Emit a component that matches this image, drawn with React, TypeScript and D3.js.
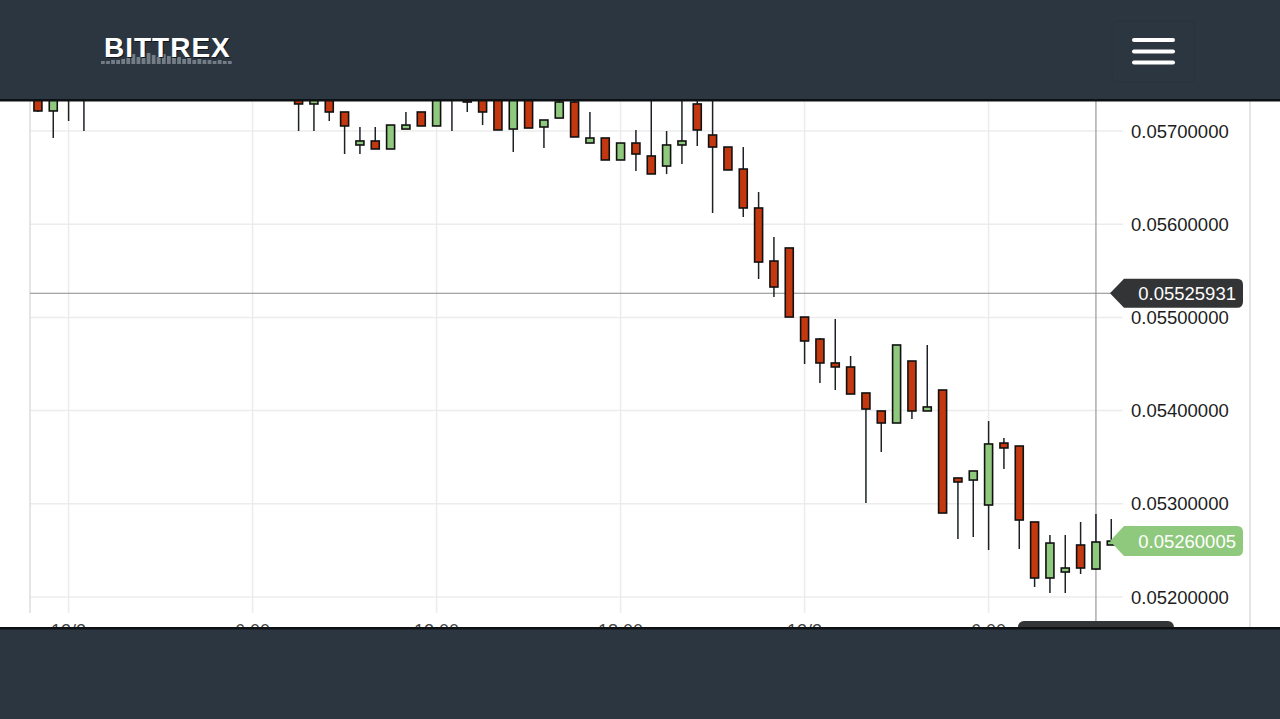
import React, { useRef, useEffect } from "react";
import * as d3 from "d3";

const width = 1280;
const height = 719;

// half-hour candles, hours after 12/2 00:00 (the ones hidden under the header are left out)
const hours = [-1, -0.5, 0, 0.5,
  7.5, 8, 8.5, 9, 9.5, 10, 10.5, 11, 11.5, 12, 12.5, 13, 13.5, 14, 14.5, 15, 15.5, 16, 16.5, 17, 17.5,
  18, 18.5, 19, 19.5, 20, 20.5, 21, 21.5, 22, 22.5, 23, 23.5, 24, 24.5, 25, 25.5, 26, 26.5, 27, 27.5,
  28, 28.5, 29, 29.5, 30, 30.5, 31, 31.5, 32, 32.5, 33, 33.5, 34];

const opens = [0.057376, 0.057215, 0.05745, 0.05738,
  0.057354, 0.05729, 0.057354, 0.057204, 0.05685, 0.056893, 0.056807, 0.057021, 0.057204, 0.057054, 0.0575,
  0.057376, 0.057365, 0.057365, 0.057021, 0.057365, 0.057043, 0.057139, 0.057311, 0.056871, 0.056925,
  0.056689, 0.056871, 0.056732, 0.056624, 0.05685, 0.05729, 0.056957, 0.056828, 0.056592, 0.056174,
  0.055605, 0.055745, 0.055004, 0.054768, 0.054511, 0.054468, 0.054189, 0.053996, 0.053867, 0.054532,
  0.053996, 0.054221, 0.053277, 0.053255, 0.052987, 0.053652, 0.05362, 0.052805, 0.052204, 0.052268,
  0.052558, 0.0523, 0.052558];

const highs = [0.057397, 0.057386, 0.0575, 0.0576,
  0.057376, 0.057376, 0.05738, 0.057204, 0.057043, 0.057043, 0.057064, 0.057204, 0.057204, 0.057397, 0.0576,
  0.0574, 0.05739, 0.05739, 0.05739, 0.05739, 0.057118, 0.05738, 0.05733, 0.057204, 0.056925,
  0.056871, 0.057011, 0.0574, 0.057, 0.0574, 0.05738, 0.0574, 0.056828, 0.056828, 0.056345,
  0.055863, 0.055745, 0.055004, 0.054779, 0.054983, 0.054586, 0.054189, 0.053996, 0.054704, 0.054532,
  0.054704, 0.054221, 0.053277, 0.053352, 0.053888, 0.053706, 0.05362, 0.052805, 0.052665, 0.052665,
  0.052805, 0.052891, 0.052837];

const lows = [0.057204, 0.056925, 0.057107, 0.057,
  0.057, 0.057, 0.057107, 0.056753, 0.056753, 0.056807, 0.056807, 0.057021, 0.057054, 0.057054, 0.057,
  0.057204, 0.057064, 0.057011, 0.056775, 0.057032, 0.056818, 0.057139, 0.056936, 0.056871, 0.056689,
  0.056689, 0.056571, 0.056539, 0.056539, 0.056646, 0.056839, 0.05612, 0.056582, 0.056077, 0.055412,
  0.055219, 0.055004, 0.0545, 0.054296, 0.054221, 0.054178, 0.053009, 0.053556, 0.053867, 0.05391,
  0.053996, 0.052901, 0.052622, 0.052644, 0.052504, 0.053373, 0.052515, 0.052107, 0.052043, 0.052043,
  0.052247, 0.05229, 0.052558];

const closes = [0.057215, 0.057365, 0.05738, 0.05745,
  0.05729, 0.057354, 0.057204, 0.057054, 0.056893, 0.056807, 0.057064, 0.057064, 0.057054, 0.057365, 0.0574,
  0.057311, 0.057204, 0.057011, 0.057365, 0.057032, 0.057118, 0.057311, 0.056936, 0.056925, 0.056689,
  0.056871, 0.056753, 0.056539, 0.05685, 0.056893, 0.057011, 0.056828, 0.056582, 0.056174, 0.055594,
  0.055326, 0.055004, 0.054747, 0.054511, 0.054468, 0.054178, 0.054017, 0.053867, 0.054704, 0.053996,
  0.054039, 0.052901, 0.053234, 0.053352, 0.053642, 0.053599, 0.052826, 0.052204, 0.052579, 0.052311,
  0.052311, 0.05259, 0.05260005];

const priceTicks = [0.052, 0.053, 0.054, 0.055, 0.056, 0.057];
const lastPrice = 0.05260005;
const crossPrice = 0.05525931;
const crossHour = 33.5;

// little bars of the logo under the brand name
const logoBars = [3, 3, 4, 4, 5, 6, 10, 7, 10, 11, 9, 7, 10, 8, 6, 7, 5, 6, 4, 5, 4, 4, 3, 4, 3, 3];

const colorUp = "#8fc97d";
const colorDown = "#c3380f";
const headerColor = "#2c3641";
const font = "'Liberation Sans', Arial, sans-serif";

const App: React.FC = () => {
  const ref = useRef<SVGSVGElement | null>(null);

  useEffect(() => {
    if (!ref.current) return;
    const svg = d3.select(ref.current);
    svg.selectAll("*").remove();

    const t0 = new Date(2017, 11, 2, 0, 0).getTime();
    const toDate = (h: number) => new Date(t0 + h * 3600e3);

    const plotLeft = 30;
    const plotRight = 1250;
    const plotTop = 100;
    const plotBottom = 628;

    const x = d3.scaleTime().domain([toDate(0), toDate(30)]).range([68.6, 988.6]);
    const y = d3.scaleLinear().domain([0.052, 0.057]).range([597, 131]);

    svg.append("rect").attr("width", width).attr("height", height).attr("fill", "#fff");

    // grid
    const grid = svg.append("g").attr("stroke", "#ececec").attr("stroke-width", 1.5);
    const timeTicks = x.ticks(d3.timeHour.every(6)!);
    grid.selectAll(".vg")
      .data(timeTicks)
      .join("line")
      .attr("x1", (d) => x(d)).attr("x2", (d) => x(d))
      .attr("y1", plotTop).attr("y2", 613);
    grid.selectAll(".hg")
      .data(priceTicks)
      .join("line")
      .attr("x1", plotLeft).attr("x2", 1123)
      .attr("y1", (d) => y(d)).attr("y2", (d) => y(d));

    // borders
    svg.append("line").attr("x1", plotLeft).attr("x2", plotLeft).attr("y1", plotTop).attr("y2", 613)
      .attr("stroke", "#dcdcdc").attr("stroke-width", 1.5);
    svg.append("line").attr("x1", plotRight).attr("x2", plotRight).attr("y1", plotTop).attr("y2", plotBottom)
      .attr("stroke", "#dcdcdc").attr("stroke-width", 1.5);

    // time labels (mostly under the bottom bar)
    const fmtDay = d3.timeFormat("%-m/%-d");
    const fmtHour = d3.timeFormat("%-H:%M");
    svg.append("g")
      .selectAll("text")
      .data(timeTicks)
      .join("text")
      .attr("x", (d) => x(d))
      .attr("y", 637)
      .attr("text-anchor", "middle")
      .attr("font-family", font)
      .attr("font-size", 18)
      .attr("fill", "#444")
      .text((d) => (d.getHours() === 0 ? fmtDay(d) : fmtHour(d)));

    // crosshair
    const cx = x(toDate(crossHour));
    svg.append("line").attr("x1", cx).attr("x2", cx).attr("y1", plotTop).attr("y2", plotBottom)
      .attr("stroke", "#9a9a9a").attr("stroke-width", 1.2);
    svg.append("line").attr("x1", plotLeft).attr("x2", 1112).attr("y1", y(crossPrice)).attr("y2", y(crossPrice))
      .attr("stroke", "#8a8a8a").attr("stroke-width", 1.2);

    // candles
    const candles = hours.map((h, i) => ({
      t: toDate(h), o: opens[i], h: highs[i], l: lows[i], c: closes[i],
    }));
    const cg = svg.append("g").selectAll("g").data(candles).join("g");
    cg.append("line")
      .attr("x1", (d) => x(d.t)).attr("x2", (d) => x(d.t))
      .attr("y1", (d) => y(d.h)).attr("y2", (d) => y(d.l))
      .attr("stroke", "#1c2126").attr("stroke-width", 1.5);
    cg.append("rect")
      .attr("x", (d) => x(d.t) - 4)
      .attr("width", 8)
      .attr("y", (d) => y(Math.max(d.o, d.c)))
      .attr("height", (d) => Math.max(3, Math.abs(y(d.o) - y(d.c))))
      .attr("fill", (d) => (d.c >= d.o ? colorUp : colorDown))
      .attr("stroke", "#111")
      .attr("stroke-width", 1.6);

    // price axis labels
    svg.append("g")
      .selectAll("text")
      .data(priceTicks)
      .join("text")
      .attr("x", 1131)
      .attr("y", (d) => y(d))
      .attr("dy", "0.36em")
      .attr("font-family", font)
      .attr("font-size", 18.5)
      .attr("fill", "#1d1d1d")
      .text((d) => d3.format(".8f")(d));

    const tag = (yc: number, half: number) =>
      `M1110,${yc} L1124,${yc - half} H1237 Q1243,${yc - half} 1243,${yc - half + 6} V${yc + half - 6} Q1243,${yc + half} 1237,${yc + half} H1124 Z`;

    svg.append("path").attr("d", tag(y(crossPrice), 14.5)).attr("fill", "#333435");
    svg.append("text").attr("x", 1236).attr("y", y(crossPrice)).attr("dy", "0.36em")
      .attr("text-anchor", "end").attr("font-family", font).attr("font-size", 18.5).attr("fill", "#fff")
      .text(d3.format(".8f")(crossPrice));

    svg.append("path").attr("d", tag(y(lastPrice), 15)).attr("fill", colorUp);
    svg.append("text").attr("x", 1236).attr("y", y(lastPrice)).attr("dy", "0.36em")
      .attr("text-anchor", "end").attr("font-family", font).attr("font-size", 18.5).attr("fill", "#fff")
      .text(d3.format(".8f")(lastPrice));

    // time tooltip at the crosshair (cut by the bottom bar)
    svg.append("rect").attr("x", cx - 78).attr("y", 621).attr("width", 156).attr("height", 24)
      .attr("rx", 6).attr("fill", "#333435");

    // header
    svg.append("rect").attr("width", width).attr("height", 100).attr("fill", headerColor);
    svg.append("rect").attr("y", 99).attr("width", width).attr("height", 2.5).attr("fill", "#0e1114");
    const bw = 132 / logoBars.length;
    svg.append("g")
      .selectAll("rect")
      .data(logoBars)
      .join("rect")
      .attr("x", (_d, i) => 101 + i * bw)
      .attr("y", (d) => 64 - d)
      .attr("width", bw - 1.3)
      .attr("height", (d) => d)
      .attr("fill", "#747d86");
    svg.append("text").attr("x", 105).attr("y", 58)
      .attr("font-family", font).attr("font-weight", "bold").attr("font-size", 28)
      .attr("letter-spacing", 1).attr("fill", "#11161b").text("BITTREX");
    svg.append("text").attr("x", 104).attr("y", 57)
      .attr("font-family", font).attr("font-weight", "bold").attr("font-size", 28)
      .attr("letter-spacing", 1).attr("fill", "#fff").text("BITTREX");

    svg.append("rect").attr("x", 1112).attr("y", 21).attr("width", 83).attr("height", 61).attr("rx", 4)
      .attr("fill", "none").attr("stroke", "#29323c").attr("stroke-width", 1);
    svg.append("g")
      .attr("stroke", "#fff").attr("stroke-width", 4).attr("stroke-linecap", "round")
      .selectAll("line")
      .data([40, 51.5, 62.5])
      .join("line")
      .attr("x1", 1134).attr("x2", 1173)
      .attr("y1", (d) => d).attr("y2", (d) => d);

    // bottom bar
    svg.append("rect").attr("y", plotBottom).attr("width", width).attr("height", height - plotBottom).attr("fill", headerColor);
    svg.append("rect").attr("y", plotBottom - 1).attr("width", width).attr("height", 2.5).attr("fill", "#0e1114");

    return () => {
      svg.selectAll("*").remove();
    };
  }, []);

  return (
    <svg
      ref={ref}
      width={width}
      height={height}
      style={{ position: "absolute", left: 0, top: 0, display: "block" }}
    ></svg>
  );
};

export default App;
